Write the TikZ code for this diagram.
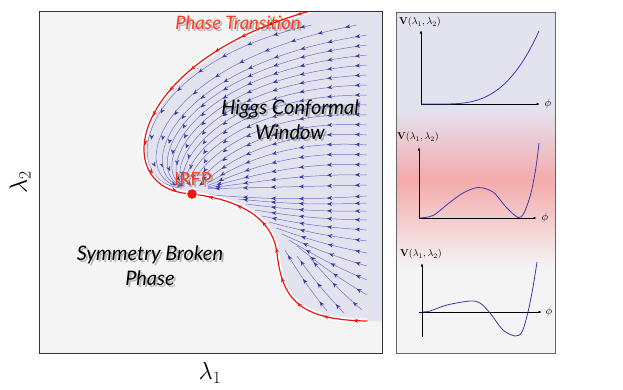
\documentclass[tikz,border=0pt]{standalone}
\usepackage{fontspec}
\newfontfamily\labelfont{Lato}
\usetikzlibrary{arrows.meta,calc,decorations.markings,positioning}

\definecolor{panelgray}{HTML}{F4F4F4}
\definecolor{windowblue}{HTML}{E3E3F0}
\definecolor{flowblue}{HTML}{7070C2}
\definecolor{tipblue}{HTML}{3A3AA0}
\definecolor{trred}{HTML}{F01414}
\definecolor{labelred}{HTML}{FF3B1E}
\definecolor{wellpink}{HTML}{F5AAAB}
\definecolor{potblue}{HTML}{3B3BAA}

% text with a soft drop shadow
\newcommand{\dropnode}[4]{%
  \node[#1, text=black, opacity=0.25, xshift=2pt, yshift=-2pt] at (#3) {#4};
  \node[#1] (#2) at (#3) {#4};}

\begin{document}
\begin{tikzpicture}[x=1pt, y=-1pt,
    flow/.style={draw=flowblue, line width=0.5pt, postaction={decorate},
      decoration={markings, mark=between positions 12pt and -4pt step 28pt with {\arrow{Stealth[length=5pt,width=4pt,color=tipblue]}}}},
    transition/.style={draw=trred, line width=1.2pt, preaction={draw=white, line width=5pt},
      postaction={decorate},
      decoration={markings, mark=between positions 14pt and -8pt step 30pt with {\arrow{Stealth[length=5pt,width=4pt,color=trred]}}}},
    region/.style={font=\labelfont\itshape\fontsize{20}{25}\selectfont, align=center, inner sep=0pt},
    redlabel/.style={font=\labelfont\itshape\fontsize{18.5}{20}\selectfont, text=labelred, inner sep=0pt},
    fplabel/.style={font=\labelfont\fontsize{18}{20}\selectfont, text=labelred, inner sep=0pt},
    coupling/.style={font=\fontsize{24}{26}\selectfont, inner sep=0pt},
    potaxis/.style={-{Latex[length=3.5pt,width=2.6pt]}, line width=0.8pt},
    potential/.style={draw=potblue, line width=0.8pt},
    vlabel/.style={font=\fontsize{10}{11}\selectfont, anchor=west, inner sep=0pt},
    philabel/.style={font=\fontsize{11}{12}\selectfont, inner sep=0pt}
  ]
  \useasboundingbox (0,0) rectangle (623,389);

  % phase diagram
  \coordinate (top) at (310,11);
  \coordinate (c2r) at (128,62);
  \coordinate (c1r) at (110,186);
  \coordinate (P) at (192,194);
  \coordinate (sink) at (195,189);
  \coordinate (knee) at (277,253);
  \coordinate (bot) at (367,321);

  \fill[panelgray] (39,11) rectangle (382,353);
  \begin{scope}
    \clip (39,11) rectangle (382,353);
    \fill[windowblue] (top) .. controls (c2r) and (c1r) .. (P)
      .. controls (235,200) and (272,215) .. (knee)
      .. controls (282,300) and (300,320) .. (bot) -- (382,321) -- (382,11) -- cycle;

    % flow lines into the fixed point
    \foreach \ex/\ey/\bl in {312/25/0.05, 357/25/0.12, 367/35/0.18, 367/45/0.235,
        367/55/0.29, 367/65/0.344, 367/75/0.399, 367/85/0.453, 367/95/0.508,
        367/105/0.563, 367/115/0.617, 367/125/0.672, 367/135/0.727, 367/145/0.781,
        367/155/0.836, 367/165/0.891, 367/175/0.945, 367/185/1.0}{
      \coordinate (s) at (\ex,\ey);
      \coordinate (q1) at ($(sink)!0.333!(s)$);
      \coordinate (q2) at ($(sink)!0.667!(s)$);
      \coordinate (b1) at ($(c1r)!\bl!(q1)$);
      \coordinate (b2) at ($(c2r)!\bl!(q2)$);
      \draw[flow, shorten >=13pt] (s) .. controls (b2) and (b1) .. (sink);
    }
    % flow lines below the fixed point
    \foreach \sx/\sy/\fx/\fy in {367/196/212/195, 367/203/238/199, 367/211/246/204,
        367/220/255/210, 367/230/262/216, 367/241/269/222, 367/253/276/228,
        367/266/282/234, 367/280/289/240, 367/295/297/246, 362/310/310/258,
        344/313/297/256, 327/311/285/250}{
      \coordinate (s) at (\sx,\sy);
      \coordinate (f) at (\fx,\fy);
      \draw[flow] (s) to[bend left=4] (f);
    }

    % phase transition line
    \draw[transition, shorten >=5pt] (top) .. controls (c2r) and (c1r) .. (P);
    \draw[transition, shorten >=5pt] (bot) .. controls (300,320) and (282,300) .. (knee)
      .. controls (272,215) and (235,200) .. (P);
  \end{scope}
  \draw[black!80, line width=0.8pt] (39,11) rectangle (382,353);

  \node[circle, fill=trred, draw=white, line width=1pt, inner sep=0pt, minimum size=11pt] (irfp) at (P) {};
  \dropnode{fplabel}{fp}{193,179}{IRFP}
  \dropnode{redlabel}{pt}{238,23}{Phase Transition}
  \dropnode{region}{hcw}{290,119.5}{Higgs Conformal\\Window}
  \dropnode{region}{sbp}{150,265.5}{Symmetry Broken\\Phase}

  \node[coupling] (lone) at (210,373) {$\lambda_1$};
  \node[coupling, rotate=90] (ltwo) at (20,182) {$\lambda_2$};

  % potentials
  \fill[windowblue] (396,12) rectangle (555,108);
  \shade[top color=windowblue, bottom color=wellpink] (396,108) rectangle (555,180);
  \shade[top color=wellpink, bottom color=panelgray] (396,180) rectangle (555,268);
  \fill[panelgray] (396,268) rectangle (555,353);
  \draw[black!60, line width=1pt] (396,12) rectangle (555,353);

  \draw[potaxis] (421,104) -- (540,104);
  \draw[potaxis] (421,104) -- (421,30);
  \draw[potential] (421,104) -- (440,104)
    plot[domain=440:539, samples=40] (\x,{104-73*((\x-440)/99)^3});
  \node[vlabel] (va) at (399,22) {\textbf{V}$(\lambda_1,\lambda_2)$};
  \node[philabel] (pa) at (548,104) {$\phi$};

  \draw[potaxis] (419,218) -- (537,218);
  \draw[potaxis] (419,218) -- (419,147);
  \draw[potential] plot[smooth] coordinates {(419,218) (433,215.5) (449,203) (463,193)
    (478,187.5) (493,192) (506,207) (518,217.5) (524,213) (531,193) (536,167) (539,143)};
  \node[vlabel] (vb) at (397,137) {\textbf{V}$(\lambda_1,\lambda_2)$};
  \node[philabel] (pb) at (545,218) {$\phi$};

  \draw[potaxis] (419,312) -- (542,312);
  \draw[potaxis] (422,337) -- (422,263);
  \draw[potential] plot[smooth] coordinates {(422,312) (430,311) (447,305) (470,301)
    (480,303) (490,313) (503,330) (515,336) (522,332) (528,312) (533,287) (537,262)};
  \node[vlabel] (vc) at (400,254) {\textbf{V}$(\lambda_1,\lambda_2)$};
  \node[philabel] (pc) at (549,312) {$\phi$};
\end{tikzpicture}
\end{document}
